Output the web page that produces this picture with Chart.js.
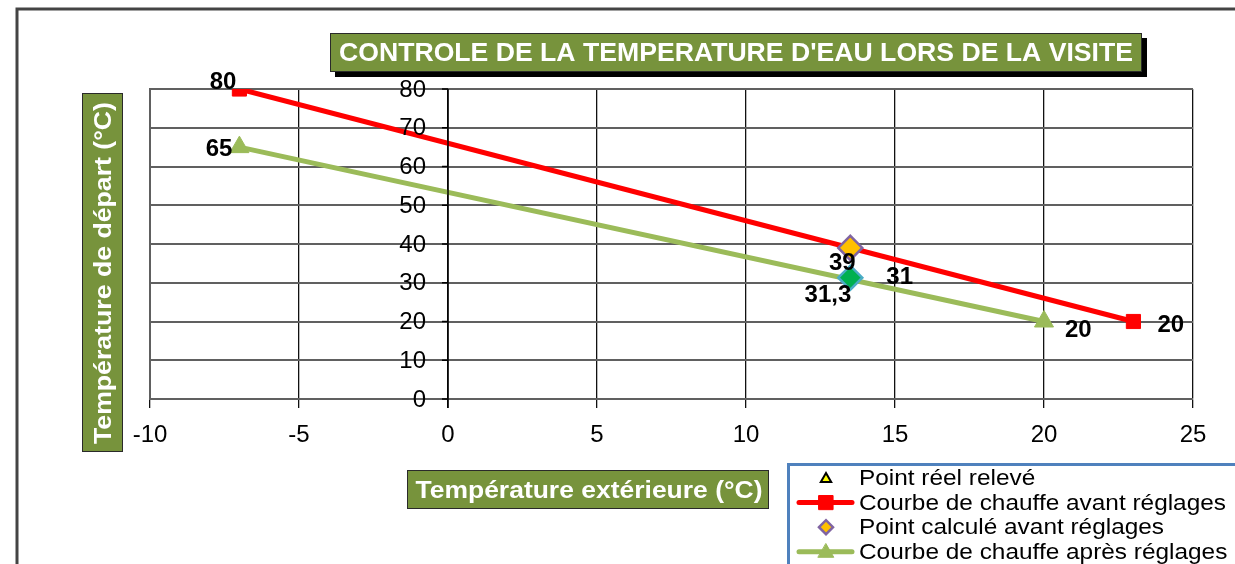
<!DOCTYPE html>
<html>
<head>
<meta charset="utf-8">
<script src="https://cdn.jsdelivr.net/npm/chart.js@4.4.0/dist/chart.umd.min.js"></script>
<style>
  html, body { margin: 0; padding: 0; background: #fff; }
</style>
</head>
<body>
<canvas id="chart" width="1235" height="564"></canvas>
<script>
// data
const titleText = "CONTROLE DE LA TEMPERATURE D'EAU LORS DE LA VISITE";
const xTitle = 'Température extérieure (°C)';
const yTitle = 'Température de départ (°C)';
const seriesNames = ['Point réel relevé', 'Courbe de chauffe avant réglages', 'Point calculé avant réglages', 'Courbe de chauffe après réglages', 'Point calculé après réglages'];

const reelX = [13.5];
const reelY = [31];
const avantX = [-7, 23];
const avantY = [80, 20];
const calcAvantX = [13.5];
const calcAvantY = [39];
const apresX = [-7, 20];
const apresY = [65, 20];
const calcApresX = [13.5];
const calcApresY = [31.3];

const xMin = -10, xMax = 25, xStep = 5;
const yMin = 0, yMax = 80, yStep = 10;

const pts = (xs, ys) => xs.map((x, i) => ({ x: x, y: ys[i] }));
const fmt = v => String(v).replace('.', ',');

// label placement per dataset / point : [dx, dy, align]
const labelPos = [
  [[36, -2, 'left']],
  [[-3, -7, 'right'], [24, 4, 'left']],
  [[-8, 15, 'center']],
  [[-7, 2, 'right'], [21, 9, 'left']],
  [[1, 18, 'right']]
];

const FONT = '"Liberation Sans", Arial, sans-serif';

// draw text at (x, y), squeezed/stretched horizontally by factor k
function drawScaled(ctx, text, x, y, k) {
  ctx.save();
  ctx.translate(x, y);
  ctx.scale(k, 1);
  ctx.fillText(text, 0, 0);
  ctx.restore();
}
function drawFitted(ctx, text, cx, cy, font, target) {
  ctx.font = font;
  drawScaled(ctx, text, cx, cy, target / ctx.measureText(text).width);
}

function greenBox(ctx, x, y, w, h, shadow) {
  if (shadow) {
    ctx.fillStyle = '#000';
    ctx.fillRect(x + 5, y + 5, w, h);
  }
  ctx.fillStyle = '#77933c';
  ctx.fillRect(x, y, w, h);
  ctx.strokeStyle = '#2a2a2a';
  ctx.lineWidth = 1;
  ctx.strokeRect(x + 0.5, y + 0.5, w - 1, h - 1);
}

const decor = {
  id: 'decor',
  beforeDraw(chart) {
    const ctx = chart.ctx;
    ctx.save();
    ctx.fillStyle = '#fff';
    ctx.fillRect(0, 0, chart.width, chart.height);
    // outer frame
    ctx.strokeStyle = '#444';
    ctx.lineWidth = 3;
    ctx.beginPath();
    ctx.moveTo(17, chart.height);
    ctx.lineTo(17, 9);
    ctx.lineTo(chart.width, 9);
    ctx.stroke();
    ctx.restore();
  },
  afterDatasetsDraw(chart) {
    const ctx = chart.ctx;
    const xs = chart.scales.x, ys = chart.scales.y;
    ctx.save();
    // y axis at x = 0 with tick marks and labels
    const x0 = xs.getPixelForValue(0);
    ctx.strokeStyle = '#000';
    ctx.lineWidth = 1.5;
    ctx.beginPath();
    ctx.moveTo(x0, ys.top);
    ctx.lineTo(x0, ys.bottom + 9);
    ctx.stroke();
    ctx.font = '24px ' + FONT;
    ctx.fillStyle = '#000';
    ctx.textAlign = 'right';
    ctx.textBaseline = 'middle';
    ys.ticks.forEach(t => {
      const py = ys.getPixelForValue(t.value);
      ctx.beginPath();
      ctx.moveTo(x0 - 6, py);
      ctx.lineTo(x0, py);
      ctx.stroke();
      ctx.fillText(String(t.value), x0 - 22, py + 1);
    });
    // data labels
    ctx.font = 'bold 24px ' + FONT;
    chart.data.datasets.forEach((ds, i) => {
      const meta = chart.getDatasetMeta(i);
      meta.data.forEach((el, j) => {
        const p = labelPos[i][j];
        ctx.textAlign = p[2];
        ctx.fillText(fmt(ds.data[j].y), el.x + p[0], el.y + p[1]);
      });
    });
    ctx.restore();
  },
  afterDraw(chart) {
    const ctx = chart.ctx;
    ctx.save();
    ctx.textAlign = 'center';
    ctx.textBaseline = 'middle';

    // title
    greenBox(ctx, 330, 33, 812, 39, true);
    ctx.fillStyle = '#fff';
    drawFitted(ctx, titleText, 736, 54, 'bold 26px ' + FONT, 794);

    // x title
    greenBox(ctx, 407, 470, 362, 39, false);
    ctx.fillStyle = '#fff';
    drawFitted(ctx, xTitle, 589, 491, 'bold 24px ' + FONT, 347);

    // y title
    greenBox(ctx, 82, 93, 41, 359, false);
    ctx.fillStyle = '#fff';
    ctx.save();
    ctx.translate(104, 273);
    ctx.rotate(-Math.PI / 2);
    drawFitted(ctx, yTitle, 0, 0, 'bold 24px ' + FONT, 342);
    ctx.restore();

    // legend
    ctx.fillStyle = '#fff';
    ctx.fillRect(787, 463, 460, 120);
    ctx.strokeStyle = '#4f81bd';
    ctx.lineWidth = 3;
    ctx.strokeRect(788.5, 464.5, 460, 120);
    ctx.textAlign = 'left';
    ctx.font = '22px ' + FONT;
    const k = 367 / ctx.measureText(seriesNames[1]).width;
    const legendSize = [6, 10, 7, 9, 7];
    chart.data.datasets.forEach((ds, i) => {
      const ly = 478 + i * 24.6;
      if (ds.showLine) {
        ctx.strokeStyle = ds.borderColor;
        ctx.lineWidth = 5;
        ctx.lineCap = 'round';
        ctx.beginPath();
        ctx.moveTo(799, ly);
        ctx.lineTo(852, ly);
        ctx.stroke();
      }
      ctx.fillStyle = ds.pointBackgroundColor;
      ctx.strokeStyle = ds.pointBorderColor;
      ctx.lineWidth = ds.pointBorderWidth;
      Chart.helpers.drawPoint(ctx, { pointStyle: ds.pointStyle, radius: legendSize[i], rotation: 0, borderWidth: ds.pointBorderWidth }, 826, ly + (ds.pointStyle === 'triangle' ? 1 : 0));
      ctx.fillStyle = '#000';
      drawScaled(ctx, seriesNames[i], 859, ly + 1, k);
    });
    ctx.restore();
  }
};

new Chart(document.getElementById('chart'), {
  type: 'scatter',
  data: {
    datasets: [
      {
        label: seriesNames[0],
        data: pts(reelX, reelY),
        pointStyle: 'triangle',
        pointRadius: 6,
        pointBackgroundColor: '#ffff00',
        pointBorderColor: '#000',
        pointBorderWidth: 2,
        showLine: false,
        order: 3
      },
      {
        label: seriesNames[1],
        data: pts(avantX, avantY),
        showLine: true,
        borderColor: '#ff0000',
        borderWidth: 5,
        pointStyle: 'rect',
        pointRadius: 10,
        pointBackgroundColor: '#ff0000',
        pointBorderColor: '#ff0000',
        pointBorderWidth: 1,
        order: 5
      },
      {
        label: seriesNames[2],
        data: pts(calcAvantX, calcAvantY),
        showLine: false,
        pointStyle: 'rectRot',
        pointRadius: 12,
        pointBackgroundColor: '#ffc000',
        pointBorderColor: '#8064a2',
        pointBorderWidth: 2.5,
        order: 1
      },
      {
        label: seriesNames[3],
        data: pts(apresX, apresY),
        showLine: true,
        borderColor: '#9bbb59',
        borderWidth: 5,
        pointStyle: 'triangle',
        pointRadius: 11,
        pointBackgroundColor: '#9bbb59',
        pointBorderColor: '#9bbb59',
        pointBorderWidth: 1,
        order: 4
      },
      {
        label: seriesNames[4],
        data: pts(calcApresX, calcApresY),
        showLine: false,
        pointStyle: 'rectRot',
        pointRadius: 12,
        pointBackgroundColor: '#00b050',
        pointBorderColor: '#4bacc6',
        pointBorderWidth: 2.5,
        order: 2
      }
    ]
  },
  options: {
    responsive: false,
    animation: false,
    devicePixelRatio: 1,
    layout: { padding: { left: 150, right: 42, top: 89, bottom: 110 } },
    plugins: {
      legend: { display: false },
      tooltip: { enabled: false },
      title: { display: false }
    },
    scales: {
      x: {
        type: 'linear',
        min: xMin,
        max: xMax,
        afterFit: s => { s.height = 55; },
        ticks: {
          stepSize: xStep,
          color: '#000',
          padding: 13,
          font: { family: FONT, size: 24 }
        },
        grid: {
          color: '#111',
          lineWidth: 1.3,
          tickLength: 9,
          tickColor: '#111'
        },
        border: { color: '#606060', width: 2 }
      },
      y: {
        type: 'linear',
        min: yMin,
        max: yMax,
        afterFit: s => { s.width = 0; },
        ticks: { stepSize: yStep, display: false },
        grid: { color: '#606060', lineWidth: 2, drawTicks: false },
        border: { color: '#606060', width: 2 }
      }
    }
  },
  plugins: [decor]
});
</script>
</body>
</html>
